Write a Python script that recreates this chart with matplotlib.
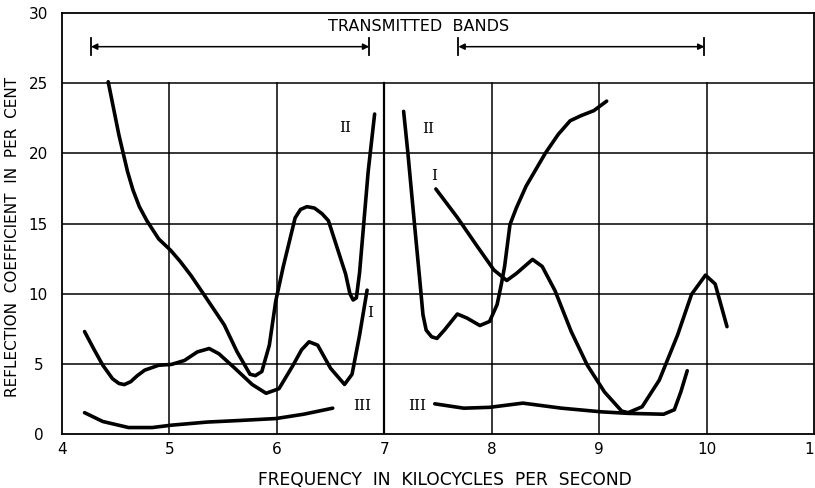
import matplotlib
matplotlib.use('Agg')
import matplotlib.pyplot as plt

# curve I, left and right of the gap at 7 kc
c1_left_x = [4.21, 4.30, 4.38, 4.47, 4.53, 4.58, 4.64, 4.70, 4.77, 4.90, 5.02, 5.14, 5.26, 5.37,
             5.46, 5.60, 5.77, 5.90, 6.02, 6.15, 6.23, 6.30, 6.38, 6.50, 6.63, 6.70, 6.77, 6.84]
c1_left_y = [7.30, 6.00, 4.90, 3.94, 3.60, 3.52, 3.73, 4.15, 4.55, 4.90, 4.96, 5.24, 5.85, 6.09,
             5.72, 4.75, 3.53, 2.90, 3.23, 4.89, 6.00, 6.57, 6.33, 4.68, 3.53, 4.26, 7.05, 10.25]
c1_right_x = [7.48, 7.68, 7.86, 8.02, 8.14, 8.23, 8.38, 8.47, 8.59, 8.74, 8.89, 9.05, 9.21,
              9.27, 9.40, 9.56, 9.73, 9.86, 9.99, 10.08, 10.19]
c1_right_y = [17.46, 15.43, 13.43, 11.69, 10.94, 11.44, 12.44, 11.94, 10.20, 7.30, 4.90, 2.99, 1.63,
              1.52, 1.94, 3.84, 7.05, 9.95, 11.32, 10.69, 7.65]

# curve II
c2_left_x = [4.43, 4.48, 4.53, 4.57, 4.61, 4.66, 4.72, 4.79, 4.90, 5.01, 5.10, 5.20, 5.32, 5.51,
             5.63, 5.75, 5.80, 5.86, 5.93, 5.99, 6.06, 6.17, 6.22, 6.28, 6.35, 6.42, 6.48, 6.64,
             6.68, 6.71, 6.74, 6.77, 6.85, 6.91]
c2_left_y = [25.1, 23.2, 21.3, 20.0, 18.7, 17.4, 16.2, 15.2, 13.9, 13.1, 12.3, 11.3, 9.95, 7.78,
             5.85, 4.26, 4.16, 4.45, 6.33, 9.49, 11.94, 15.4, 16.0, 16.2, 16.1, 15.7, 15.2, 11.4,
             10.0, 9.55, 9.7, 11.5, 18.7, 22.8]
c2_right_x = [7.18, 7.22, 7.28, 7.33, 7.36, 7.39, 7.44, 7.49, 7.56, 7.68, 7.77, 7.89, 7.98, 8.05,
              8.09, 8.12, 8.17, 8.23, 8.32, 8.50, 8.62, 8.73, 8.83, 8.95, 9.07]
c2_right_y = [22.99, 20.0, 15.05, 11.0, 8.5, 7.4, 6.93, 6.81, 7.41, 8.55, 8.26, 7.73, 8.02, 9.22,
              10.69, 11.94, 14.93, 16.12, 17.66, 20.02, 21.36, 22.32, 22.68, 23.04, 23.72]

# curve III
c3_left_x = [4.21, 4.38, 4.62, 4.84, 5.02, 5.35, 5.62, 5.99, 6.25, 6.52]
c3_left_y = [1.52, 0.89, 0.46, 0.46, 0.63, 0.85, 0.95, 1.10, 1.41, 1.84]
c3_right_x = [7.47, 7.74, 7.98, 8.29, 8.65, 9.02, 9.27, 9.60, 9.70, 9.76, 9.82]
c3_right_y = [2.15, 1.84, 1.90, 2.20, 1.84, 1.58, 1.47, 1.41, 1.73, 2.99, 4.51]

bands = [(4.27, 6.86), (7.69, 9.98)]
band_y = 27.6

xticks = [4, 5, 6, 7, 8, 9, 10, 11]
yticks = [0, 5, 10, 15, 20, 25, 30]

fig = plt.figure(figsize=(8.15, 4.88), dpi=100)
ax = fig.add_axes([62/815, 54/488, 752/815, 421/488])
ax.set_xlim(4, 11)
ax.set_ylim(0, 30)

# grid: horizontal lines full width, vertical only up to 25
for y in yticks[1:-1]:
    ax.axhline(y, color='black', linewidth=1.1, zorder=1)
for x in xticks[1:-1]:
    ax.plot([x, x], [0, 25], color='black', linewidth=1.6 if x == 7 else 1.1, zorder=1)

for xs, ys in [(c1_left_x, c1_left_y), (c1_right_x, c1_right_y),
               (c2_left_x, c2_left_y), (c2_right_x, c2_right_y),
               (c3_left_x, c3_left_y), (c3_right_x, c3_right_y)]:
    ax.plot(xs, ys, color='black', linewidth=2.6, solid_capstyle='round',
            solid_joinstyle='round', zorder=3)

# transmitted bands
for a, b in bands:
    ax.annotate('', xy=(b, band_y), xytext=(a, band_y),
                arrowprops=dict(arrowstyle='<|-|>', color='black', lw=1.1,
                                shrinkA=0, shrinkB=0, mutation_scale=9))
    ax.plot([a, a], [band_y - 0.6, band_y + 0.6], color='black', linewidth=1.3)
    ax.plot([b, b], [band_y - 0.6, band_y + 0.6], color='black', linewidth=1.3)
ax.text(7.32, 29.07, 'TRANSMITTED  BANDS', ha='center', va='center', fontsize=11.5)

# curve labels
lab = dict(ha='center', va='center', fontsize=11, family='DejaVu Serif')
ax.text(6.64, 21.8, 'II', **lab)
ax.text(6.87, 8.6, 'I', **lab)
ax.text(6.79, 1.96, 'III', **lab)
ax.text(7.31, 1.96, 'III', **lab)
ax.text(7.41, 21.7, 'II', **lab)
ax.text(7.46, 18.4, 'I', **lab)

ax.set_xticks(xticks)
ax.set_yticks(yticks)
ax.set_xticklabels(['4', '5', '6', '7', '8', '9', '10', '11'])
ax.tick_params(axis='both', length=0, labelsize=11)
ax.tick_params(axis='x', pad=6)
ax.tick_params(axis='y', pad=17)
for t in ax.get_yticklabels():
    t.set_horizontalalignment('center')
for s in ax.spines.values():
    s.set_linewidth(1.3)

ax.set_xlabel('FREQUENCY  IN  KILOCYCLES  PER  SECOND', fontsize=12.3)
ax.set_ylabel('REFLECTION  COEFFICIENT  IN  PER  CENT', fontsize=11)
ax.xaxis.set_label_coords(0.509, -0.087)
ax.yaxis.set_label_coords(-0.056, 0.468)

plt.savefig('out.png', dpi=100)
